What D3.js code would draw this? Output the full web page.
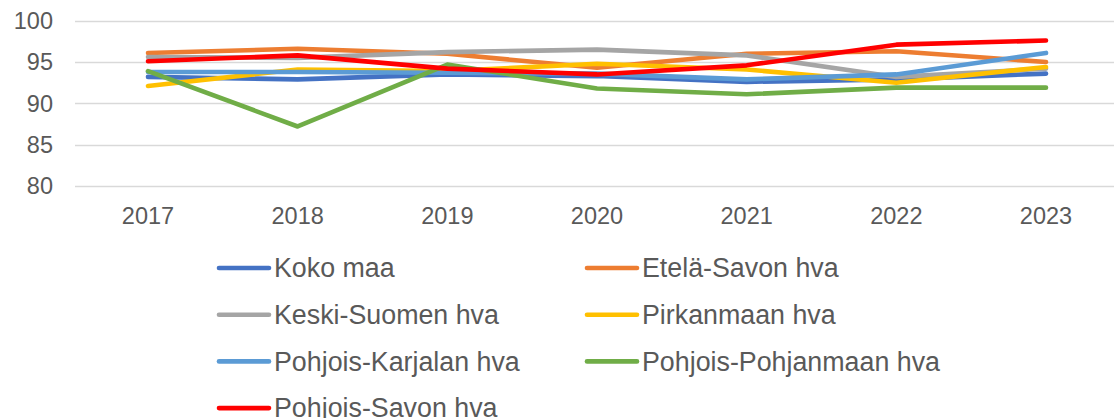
<!DOCTYPE html>
<html>
<head>
<meta charset="utf-8">
<script src="https://cdn.jsdelivr.net/npm/d3@7"></script>
<style>
  body { margin: 0; background: #fff; }
  text { font-family: "Liberation Sans", Arial, sans-serif; fill: #595959; }
</style>
</head>
<body>
<div id="chart"></div>
<script>

// years on the x axis
var years = ["2017", "2018", "2019", "2020", "2021", "2022", "2023"];
var yTicks = [80, 85, 90, 95, 100];

// series values
var kokoMaa          = [93.2, 92.9, 93.5, 93.3, 92.6, 92.9, 93.6];
var etelaSavo        = [96.1, 96.6, 96.0, 94.3, 96.0, 96.3, 95.0];
var keskiSuomi       = [95.6, 95.5, 96.2, 96.5, 95.8, 93.2, 94.2];
var pirkanmaa        = [92.1, 94.1, 93.9, 94.8, 94.1, 92.5, 94.4];
var pohjoisKarjala   = [93.8, 93.8, 93.7, 93.6, 92.9, 93.5, 96.1];
var pohjoisPohjanmaa = [93.9, 87.2, 94.7, 91.8, 91.1, 91.9, 91.9];
var pohjoisSavo      = [95.1, 95.8, 94.2, 93.5, 94.6, 97.1, 97.6];

var seriesNames = ["Koko maa", "Etelä-Savon hva", "Keski-Suomen hva", "Pirkanmaan hva",
                   "Pohjois-Karjalan hva", "Pohjois-Pohjanmaan hva", "Pohjois-Savon hva"];
var seriesValues = [kokoMaa, etelaSavo, keskiSuomi, pirkanmaa,
                    pohjoisKarjala, pohjoisPohjanmaa, pohjoisSavo];
var seriesColors = ["#4472C4", "#ED7D31", "#A5A5A5", "#FFC000", "#5B9BD5", "#70AD47", "#FF0000"];

var width = 1114, height = 418;

var svg = d3.select("#chart").append("svg")
    .attr("width", width)
    .attr("height", height);

var x = d3.scalePoint()
    .domain(years)
    .range([148, 1046]);

var y = d3.scaleLinear()
    .domain([80, 100])
    .range([186, 20.7]);

// gridlines
svg.append("g").selectAll("line")
    .data(yTicks)
  .enter().append("line")
    .attr("x1", 75)
    .attr("x2", width)
    .attr("y1", function(d) { return Math.round(y(d)) + 0.5; })
    .attr("y2", function(d) { return Math.round(y(d)) + 0.5; })
    .style("stroke", "#D9D9D9")
    .style("stroke-width", 1.3);

// y labels
svg.append("g").selectAll("text")
    .data(yTicks)
  .enter().append("text")
    .attr("x", 53)
    .attr("y", function(d) { return y(d); })
    .attr("dy", "0.35em")
    .attr("text-anchor", "end")
    .style("font-size", "23.5px")
    .text(function(d) { return d; });

// x labels
svg.append("g").selectAll("text")
    .data(years)
  .enter().append("text")
    .attr("x", function(d) { return x(d); })
    .attr("y", 224)
    .attr("text-anchor", "middle")
    .style("font-size", "23.5px")
    .text(function(d) { return d; });

var line = d3.line()
    .x(function(d, i) { return x(years[i]); })
    .y(function(d) { return y(d); });

// the lines, drawn in series order so the last one is on top
svg.append("g").selectAll("path")
    .data(seriesValues)
  .enter().append("path")
    .attr("d", line)
    .style("fill", "none")
    .style("stroke", function(d, i) { return seriesColors[i]; })
    .style("stroke-width", 4.6)
    .style("stroke-linecap", "round")
    .style("stroke-linejoin", "round");

// legend, two columns (last row is cut by the bottom edge, as in the original)
var legendX = [219, 587], legendY0 = 268, legendStep = 46.7;

var item = svg.append("g").selectAll("g")
    .data(seriesNames)
  .enter().append("g")
    .attr("transform", function(d, i) {
      return "translate(" + legendX[i % 2] + "," + (legendY0 + Math.floor(i / 2) * legendStep) + ")";
    });

item.append("line")
    .attr("x1", 0)
    .attr("x2", 50)
    .style("stroke", function(d, i) { return seriesColors[i]; })
    .style("stroke-width", 4.6)
    .style("stroke-linecap", "round");

item.append("text")
    .attr("x", 55)
    .attr("dy", "0.35em")
    .style("font-size", "26.8px")
    .text(function(d) { return d; });

</script>
</body>
</html>
